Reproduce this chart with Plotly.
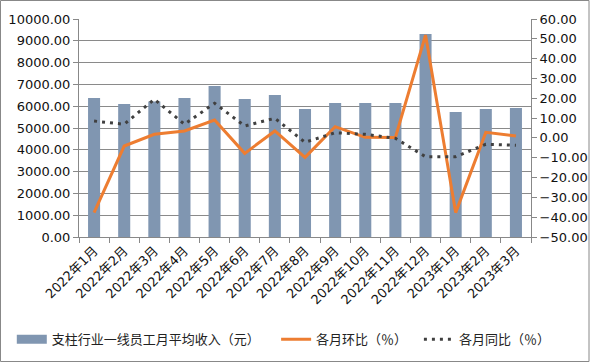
import plotly.graph_objects as go

categories = ["2022年1月", "2022年2月", "2022年3月", "2022年4月", "2022年5月", "2022年6月",
              "2022年7月", "2022年8月", "2022年9月", "2022年10月", "2022年11月", "2022年12月",
              "2023年1月", "2023年2月", "2023年3月"]
income = [6380, 6100, 6210, 6380, 6930, 6330, 6510, 5870, 6150, 6150, 6150, 9310, 5730, 5870, 5920]
mom = [-37.7, -4.1, 1.8, 3.5, 9.0, -7.8, 3.5, -9.8, 5.7, 0.3, 0.2, 51.9, -37.7, 2.8, 1.0]
yoy = [8.5, 6.9, 19.5, 6.9, 17.5, 6.0, 9.9, -2.2, 2.6, 1.8, -0.2, -9.5, -9.5, -3.2, -3.7]
left_ticks = [i * 1000 for i in range(11)]
right_ticks = [-50 + i * 10 for i in range(12)]

font_main = "DejaVu Sans, Noto Sans CJK SC"
font_cjk = "Noto Sans CJK SC, DejaVu Sans"
bar_color = "#8096B1"

fig = go.Figure()
fig.add_trace(go.Bar(x=categories, y=income, name="支柱行业一线员工月平均收入（元）",
                     marker=dict(color=bar_color, line=dict(width=0)), yaxis="y",
                     showlegend=False))
# legend swatch for the bar series (wide rectangle like the original)
fig.add_trace(go.Scatter(x=[None], y=[None], name="支柱行业一线员工月平均收入（元）", mode="lines",
                         line=dict(color=bar_color, width=9), legend="legend", hoverinfo="skip"))
fig.add_trace(go.Scatter(x=categories, y=mom, name="各月环比（％）", mode="lines",
                         line=dict(color="#ED7D31", width=3), yaxis="y2", legend="legend2"))
fig.add_trace(go.Scatter(x=categories, y=yoy, name="各月同比（％）", mode="lines",
                         line=dict(color="#404040", width=3, dash="3px,5px"), yaxis="y2",
                         legend="legend3"))

leg_common = dict(orientation="h", xref="container", yref="container", y=0.063,
                  xanchor="left", yanchor="middle", bgcolor="rgba(0,0,0,0)",
                  font=dict(family=font_cjk, size=13, color="#222"), itemwidth=30)

fig.update_layout(
    width=590, height=362,
    margin=dict(l=79, r=59, t=19, b=125, autoexpand=False),
    paper_bgcolor="white", plot_bgcolor="white",
    bargap=0.6,
    showlegend=True,
    legend=dict(leg_common, x=0.02),
    legend2=dict(leg_common, x=0.468),
    legend3=dict(leg_common, x=0.710),
    xaxis=dict(type="category", tickangle=-45, ticks="outside", tickson="boundaries",
               ticklen=5, tickcolor="#888", showline=True, linecolor="#888", linewidth=1,
               showgrid=False, automargin=False,
               tickfont=dict(family=font_main, size=13, color="#111")),
    yaxis=dict(range=[0, 10000], tickvals=left_ticks, tickformat=".2f", automargin=False,
               ticks="outside", ticklen=5, tickcolor="#888", showline=True, linecolor="#888",
               gridcolor="#8a8a8a", gridwidth=1, zeroline=False,
               tickfont=dict(family=font_main, size=13, color="#111")),
    yaxis2=dict(range=[-50, 60], tickvals=right_ticks, tickformat=".2f", overlaying="y",
                side="right", ticks="outside", ticklen=5, tickcolor="#888", showline=True,
                linecolor="#888", showgrid=False, zeroline=False, automargin=False,
                tickfont=dict(family=font_main, size=13, color="#111")),
)
fig.add_shape(type="rect", xref="x domain", yref="y domain", x0=-78.5/452, x1=(452+58)/452,
              y0=-124.5/218, y1=(218+18.5)/218, line=dict(color="#888", width=1), layer="below")

fig.write_html("out.html", config={"displayModeBar": False},
               post_script="document.body.style.margin='0';")
